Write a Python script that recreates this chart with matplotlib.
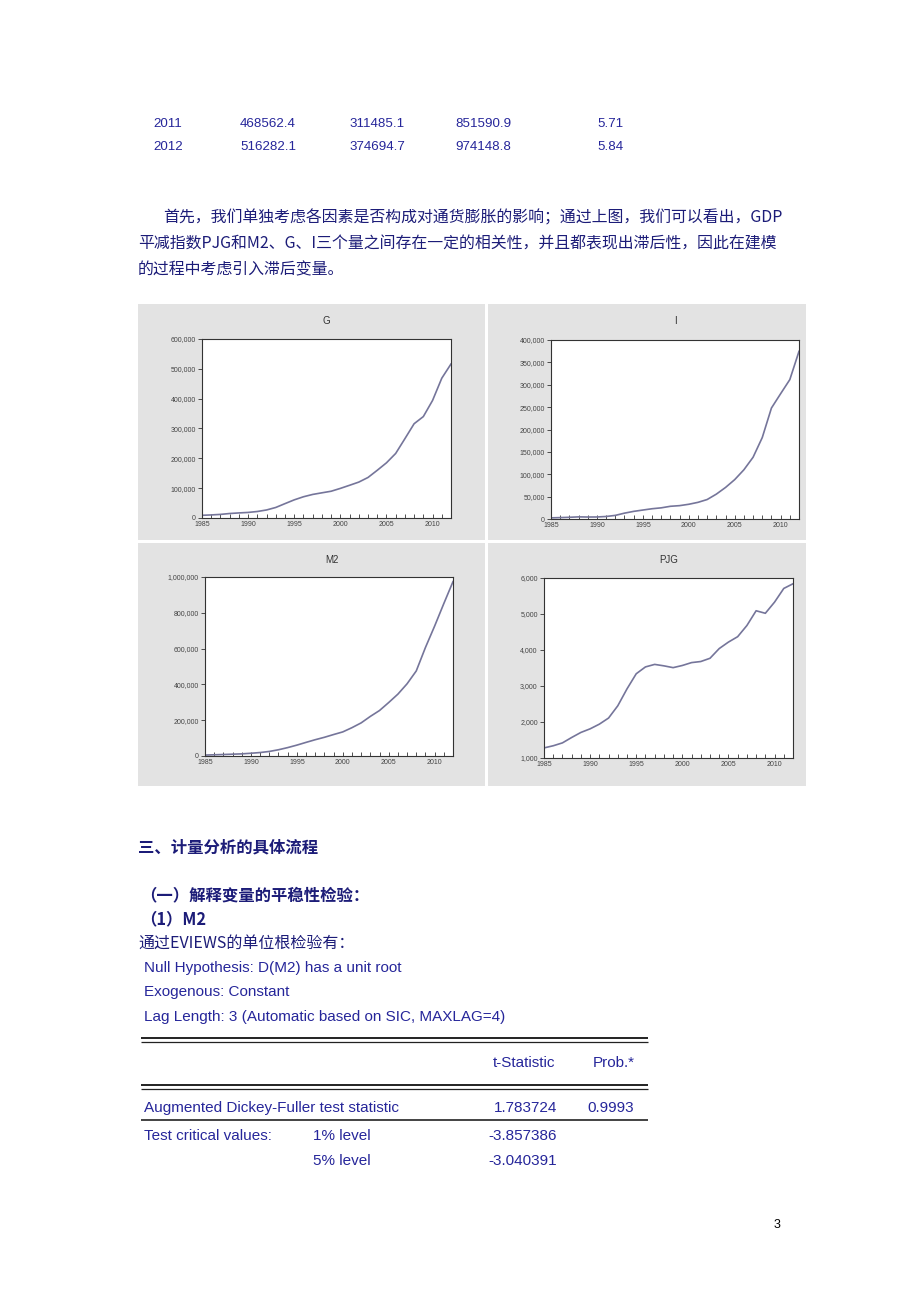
import matplotlib
matplotlib.use("Agg")
import matplotlib.pyplot as plt
from matplotlib.patches import Rectangle
from matplotlib.ticker import FuncFormatter, MultipleLocator

plt.rcParams['font.family'] = ['Noto Sans CJK SC', 'DejaVu Sans']

# data
years = list(range(1985, 2013))
g_vals = [9016, 10275, 12059, 15043, 16992, 18668, 21782, 26924, 35334, 48198,
          60794, 71177, 78973, 84402, 89677, 99215, 109655, 120333, 135823, 159878,
          184937, 216314, 265810, 316000, 340000, 394000, 468562.4, 516282.1]
i_vals = [2543, 3121, 3792, 4754, 4410, 4517, 5595, 8080, 13072, 17042,
          20019, 22914, 24941, 28406, 29855, 32918, 37214, 43500, 55567, 70477,
          88000, 110000, 138000, 182000, 248000, 280000, 311485.1, 374694.7]
m2_vals = [5199, 6721, 8330, 10100, 11950, 15293, 19350, 25402, 34880, 46924,
           60751, 76095, 90995, 104499, 119898, 134610, 158302, 185007, 221223, 254107,
           298756, 345578, 403442, 475167, 606225, 725852, 851590.9, 974148.8]
pjg_vals = [1280, 1340, 1420, 1570, 1710, 1810, 1940, 2110, 2450, 2920,
            3340, 3530, 3600, 3560, 3510, 3570, 3650, 3680, 3770, 4040,
            4220, 4370, 4680, 5090, 5020, 5330, 5710, 5840]

table_rows = [["2011", "468562.4", "311485.1", "851590.9", "5.71"],
              ["2012", "516282.1", "374694.7", "974148.8", "5.84"]]

para_lines = ["首先，我们单独考虑各因素是否构成对通货膨胀的影响；通过上图，我们可以看出，GDP",
              "平减指数PJG和M2、G、I三个量之间存在一定的相关性，并且都表现出滞后性，因此在建模",
              "的过程中考虑引入滞后变量。"]

W, H = 920, 1302
NAVY = '#1c1c78'
BLUE = '#26269a'
LINE = '#75759a'

fig = plt.figure(figsize=(W / 100, H / 100), dpi=100)
fig.patch.set_facecolor('white')

# page layer in pixel coordinates
page = fig.add_axes([0, 0, 1, 1])
page.set_xlim(0, W)
page.set_ylim(H, 0)
page.axis('off')

# numbers at the top
col_x = [153, 240, 350, 455, 597]
for row, y in zip(table_rows, [124, 147]):
    for txt, x in zip(row, col_x):
        page.text(x, y, txt, fontsize=9.6, color=BLUE, family='Liberation Sans',
                  va='center', ha='left')

# paragraph
page.text(163, 218, para_lines[0], fontsize=11.45, color=NAVY, va='center')
page.text(138, 244, para_lines[1], fontsize=11.45, color=NAVY, va='center')
page.text(138, 270, para_lines[2], fontsize=11.45, color=NAVY, va='center')

# gray panels behind the four graphs
for x0, y0, x1, y1 in [(138, 304, 485, 540), (488, 304, 806, 540),
                       (138, 543, 485, 786), (488, 543, 806, 786)]:
    page.add_patch(Rectangle((x0, y0), x1 - x0, y1 - y0, facecolor='#e3e3e3',
                             edgecolor='none'))


def comma(v, pos):
    return f"{int(v):,}"


def graph(box, title, title_xy, vals, ymax, ystep, ymin=0):
    left, top, right, bottom = box
    ax = fig.add_axes([left / W, 1 - bottom / H, (right - left) / W, (bottom - top) / H])
    ax.plot(years, vals, color=LINE, lw=1.2)
    ax.set_xlim(1985, 2012)
    ax.set_ylim(ymin, ymax)
    ax.set_facecolor('white')
    ax.yaxis.set_major_locator(MultipleLocator(ystep))
    ax.yaxis.set_major_formatter(FuncFormatter(comma))
    ax.set_xticks([1985, 1990, 1995, 2000, 2005, 2010])
    ax.xaxis.set_minor_locator(MultipleLocator(1))
    ax.tick_params(axis='y', direction='out', length=3, width=0.6, labelsize=5,
                   labelcolor='#444444', pad=1.5, color='#333333')
    ax.tick_params(axis='x', which='both', direction='in', length=3, width=0.6,
                   labelsize=5, labelcolor='#444444', pad=2, color='#333333')
    for s in ax.spines.values():
        s.set_color('#333333')
        s.set_linewidth(0.8)
    for lab in ax.get_xticklabels() + ax.get_yticklabels():
        lab.set_family('Liberation Sans')
    page.text(title_xy[0], title_xy[1], title, fontsize=7, color='#333333',
              family='Liberation Sans', ha='center', va='center')
    return ax


graph((202, 339, 451, 518), 'G', (326, 321), g_vals, 600000, 100000)
graph((551, 340, 799, 519), 'I', (675, 321), i_vals, 400000, 50000)
graph((205, 577, 453, 756), 'M2', (332, 560), m2_vals, 1000000, 200000)
graph((544, 578, 793, 758), 'PJG', (669, 560), pjg_vals, 6000, 1000, ymin=1000)

# section text
page.text(138, 847, "三、计量分析的具体流程", fontsize=11.8, color=NAVY,
          fontweight='bold', va='center')
page.text(140, 895, "（一）解释变量的平稳性检验：", fontsize=11.8, color=NAVY,
          fontweight='bold', va='center')
page.text(140, 919, "（1）M2", fontsize=11.8, color=NAVY, fontweight='bold', va='center')
page.text(138, 943, "通过EVIEWS的单位根检验有：", fontsize=11.5, color=NAVY, va='center')

eng = dict(fontsize=11, color=BLUE, family='Liberation Sans', va='center')
page.text(144, 968, "Null Hypothesis: D(M2) has a unit root", **eng)
page.text(144, 992, "Exogenous: Constant", **eng)
page.text(144, 1017, "Lag Length: 3 (Automatic based on SIC, MAXLAG=4)", **eng)

# rules of the test table
for y, lw in [(1038, 1.4), (1041.5, 0.9), (1085, 1.4), (1088.5, 0.9), (1120, 1.2)]:
    page.plot([141, 648], [y, y], color='#222222', lw=lw, solid_capstyle='butt')

page.text(555, 1063, "t-Statistic", ha='right', **eng)
page.text(635, 1063, "Prob.*", ha='right', **eng)
page.text(144, 1108, "Augmented Dickey-Fuller test statistic", **eng)
page.text(557, 1108, "1.783724", ha='right', **eng)
page.text(634, 1108, "0.9993", ha='right', **eng)
page.text(144, 1136, "Test critical values:", **eng)
page.text(313, 1136, "1% level", **eng)
page.text(557, 1136, "-3.857386", ha='right', **eng)
page.text(313, 1161, "5% level", **eng)
page.text(557, 1161, "-3.040391", ha='right', **eng)

page.text(777, 1225, "3", fontsize=9, color='black', family='Liberation Sans',
          ha='center', va='center')

fig.savefig('out.png', dpi=100)
